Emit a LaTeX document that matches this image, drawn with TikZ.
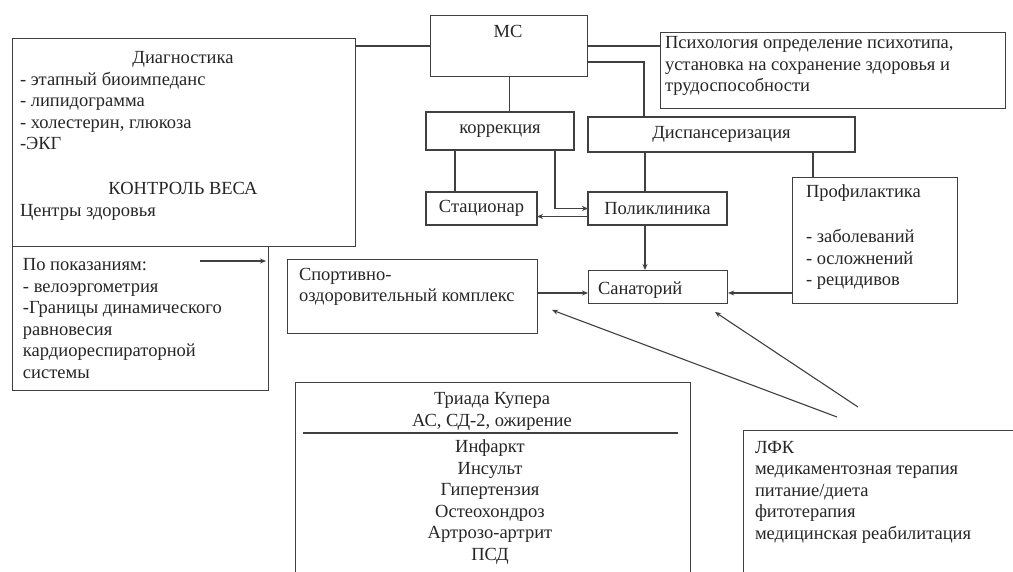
\documentclass[tikz,border=0pt]{standalone}
\usepackage{fontspec}
\setmainfont{Liberation Serif}
\usetikzlibrary{arrows.meta, calc, positioning}

\begin{document}
\begin{tikzpicture}[x=1pt, y=-1pt,
    box/.style={draw=black!75, line width=1.1pt, inner sep=0, anchor=north west},
    txt/.style={inner sep=0, outer sep=0, text=black!85, font=\fontsize{18.5}{21.5}\selectfont},
    wire/.style={draw=black!75, line width=1.1pt},
    arr/.style={wire, -{Stealth[length=6pt, width=5pt]}}]
      \clip (0,0) rectangle (1013,572);
      \fill [white] (0,0) rectangle (1013,572);

      % boxes
      \node [box, minimum width=343, minimum height=208] (diag) at (12,38) {};
      \node [box, minimum width=256, minimum height=144] (pokaz) at (12,246) {};
      \node [box, minimum width=157, minimum height=61] (mc) at (430,15) {};
      \node [box, minimum width=345, minimum height=76] (psych) at (660,32) {};
      \node [box, minimum width=148, minimum height=38, txt] (corr) at (426,112) {коррекция};
      \node [box, minimum width=267, minimum height=35, txt] (disp) at (588,117) {Диспансеризация};
      \node [box, minimum width=111, minimum height=33, txt] (stac) at (426,192) {Стационар};
      \node [box, minimum width=139, minimum height=33, txt] (polik) at (588,192) {Поликлиника};
      \node [box, minimum width=139, minimum height=33] (sanat) at (588,270) {};
      \node [box, minimum width=165, minimum height=126] (prof) at (792,177) {};
      \node [box, minimum width=250, minimum height=74] (sport) at (287,259) {};
      \node [box, minimum width=395, minimum height=230] (triad) at (295,382) {};
      \node [box, minimum width=300, minimum height=200] (lfk) at (743,430) {};

      % texts (base of a multi-line node = its last line)
      \node [txt, anchor=base] (diagT) at (183,64) {Диагностика};
      \node [txt, anchor=base west, align=left] (diagL) at (20,150)
        {- этапный биоимпеданс\\- липидограмма\\- холестерин, глюкоза\\-ЭКГ};
      \node [txt, anchor=base] (weight) at (183,195) {КОНТРОЛЬ ВЕСА};
      \node [txt, anchor=base west] (centers) at (20,217) {Центры здоровья};
      \node [txt, anchor=base west, align=left] (pokazT) at (23,378)
        {По показаниям:\\- велоэргометрия\\-Границы динамического\\равновесия\\кардиореспираторной\\системы};
      \node [txt, anchor=base] (mcT) at (508,38) {МС};
      \node [txt, anchor=base west, align=left] (psychT) at (665,92)
        {Психология определение психотипа,\\установка на сохранение здоровья и\\трудоспособности};
      \node [txt, anchor=base west] (sanatT) at (598,295) {Санаторий};
      \node [txt, anchor=base west, align=left] (profT) at (806,286)
        {Профилактика\\[23.5pt]- заболеваний\\- осложнений\\- рецидивов};
      \node [txt, anchor=base west, align=left] (sportT) at (299,302)
        {Спортивно-\\оздоровительный комплекс};
      \node [txt, anchor=base, align=center] (triadT) at (492,426)
        {Триада Купера\\АС, СД-2, ожирение};
      \draw [wire] (303,433) -- (678,433);
      \node [txt, anchor=base, align=center] (triadL) at (490,560)
        {Инфаркт\\Инсульт\\Гипертензия\\Остеохондроз\\Артрозо-артрит\\ПСД};
      \node [txt, anchor=base west, align=left] (lfkT) at (755,539)
        {ЛФК\\медикаментозная терапия\\питание/диета\\фитотерапия\\медицинская реабилитация};

      % connectors
      \coordinate (mcout) at (644,62);
      \coordinate (c2s) at (455,0);
      \coordinate (c2p) at (555,0);
      \coordinate (dp) at (645,0);
      \coordinate (dq) at (813,0);
      \coordinate (san) at (0,293);
      \coordinate (ps) at ($(polik.west)+(0,8)$);
      \coordinate (pk1) at (200,261);
      \coordinate (pk2) at (266,261);
      \coordinate (d1) at (837,417);
      \coordinate (d1e) at (552,310);
      \coordinate (d2) at (858,407);
      \coordinate (d2e) at (715,312);

      \draw [wire] (mc.west) -- (mc.west -| diag.east);
      \draw [wire] (mc.east) -- (mc.east -| psych.west);
      \draw [wire] (mcout -| mc.east) -- (mcout) -- (mcout |- disp.north);
      \draw [wire] (mc.south) -- (mc.south |- corr.north);
      \draw [wire] (c2s |- corr.south) -- (c2s |- stac.north);
      \draw [arr] (c2p |- corr.south) |- (polik.west);
      \draw [arr] (ps) -- (ps -| stac.east);
      \draw [wire] (dp |- disp.south) -- (dp |- polik.north);
      \draw [arr] (dp |- polik.south) -- (dp |- sanat.north);
      \draw [wire] (dq |- disp.south) -- (dq |- prof.north);
      \draw [arr] (prof.west |- san) -- (sanat.east |- san);
      \draw [arr] (sport.east |- san) -- (sanat.west |- san);
      \draw [arr] (pk1) -- (pk2);
      \draw [arr] (d1) -- (d1e);
      \draw [arr] (d2) -- (d2e);
\end{tikzpicture}
\end{document}
